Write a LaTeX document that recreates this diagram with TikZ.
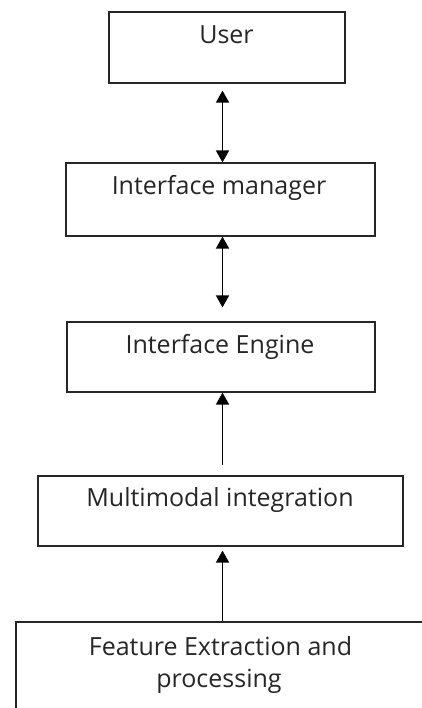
\documentclass[tikz,border=0pt]{standalone}
\usepackage{fontspec}
\setmainfont{Open Sans}
\usetikzlibrary{arrows.meta}
\begin{document}
\begin{tikzpicture}[x=1pt,y=1pt,
  box/.style={draw=black!85, line width=1.2pt, rectangle, inner sep=0pt},
  lbl/.style={anchor=base, inner sep=0pt, text=black!85, font=\fontsize{25}{30}\selectfont},
  conn/.style={line width=1.7pt, -{Triangle[length=12pt,width=13pt]}},
  dconn/.style={line width=1.7pt, {Triangle[length=12pt,width=13pt]}-{Triangle[length=12pt,width=13pt]}}]
\useasboundingbox (0,0) rectangle (422,-708);
\clip (0,0) rectangle (422,-708);
\node[box, minimum width=236, minimum height=71] (user) at (227,-47.5) {};
\node[box, minimum width=309, minimum height=73] (im) at (220.5,-199.5) {};
\node[box, minimum width=308, minimum height=70] (ie) at (221,-357) {};
\node[box, minimum width=365, minimum height=70] (mi) at (220.5,-511) {};
\node[box, minimum width=410, minimum height=100] (fe) at (221,-672) {};
\node[lbl] (tuser) at (226.5,-43.3) {User};
\node[lbl] (tim) at (219,-195) {Interface manager};
\node[lbl] (tie) at (220,-353) {Interface Engine};
\node[lbl] (tmi) at (220,-506) {Multimodal integration};
\node[lbl] (tfe1) at (220.5,-655) {Feature Extraction and};
\node[lbl] (tfe2) at (219,-687) {processing};
\draw[dconn, shorten <=7pt] ([xshift=-4.5pt]user.south) -- ([xshift=2pt]im.north);
\draw[dconn, shorten >=14pt] ([xshift=2pt]im.south) -- ([xshift=1.5pt]ie.north);
\draw[conn, shorten <=10pt] ([xshift=2pt]mi.north) -- ([xshift=1.5pt]ie.south);
\draw[conn, shorten >=4pt] ([xshift=1.5pt]fe.north) -- ([xshift=2pt]mi.south);
\end{tikzpicture}
\end{document}
